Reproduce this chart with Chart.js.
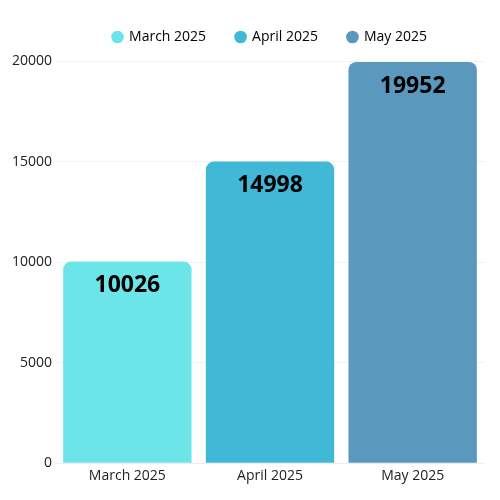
<!DOCTYPE html>
<html>
<head>
<meta charset="utf-8">
<script src="https://cdn.jsdelivr.net/npm/chart.js@4"></script>
<style>
  html, body { margin: 0; padding: 0; background: #fff; }
  #wrap { width: 500px; height: 500px; }
</style>
</head>
<body>
<div id="wrap"><canvas id="chart"></canvas></div>
<script>
const months = ['March 2025', 'April 2025', 'May 2025'];
const totals = [10026, 14998, 19952];
const barColors = ['#6be5e8', '#42b8d7', '#5a98bd'];
const yTicks = [0, 5000, 10000, 15000, 20000];

// draws the bold value inside the top of each bar
const valueLabels = {
    id: 'valueLabels',
    afterDatasetsDraw(chart) {
        const ctx = chart.ctx;
        const meta = chart.getDatasetMeta(0);
        ctx.save();
        ctx.font = 'bold 23px "Open Sans"';
        ctx.fillStyle = '#000';
        ctx.textAlign = 'center';
        ctx.textBaseline = 'middle';
        meta.data.forEach((bar, i) => {
            ctx.fillText(totals[i], bar.x, bar.y + 24);
        });
        ctx.restore();
    }
};

// extra room under the legend
const legendGap = {
    id: 'legendGap',
    beforeInit(chart) {
        const fit = chart.legend.fit;
        chart.legend.fit = function () {
            fit.call(this);
            this.height += 7;
        };
    }
};

new Chart(document.getElementById('chart'), {
    type: 'bar',
    data: {
        labels: months,
        datasets: [{
            data: totals,
            backgroundColor: barColors,
            borderRadius: { topLeft: 8, topRight: 8 },
            borderSkipped: 'bottom',
            categoryPercentage: 0.9,
            barPercentage: 1
        }]
    },
    options: {
        responsive: true,
        maintainAspectRatio: false,
        animation: false,
        layout: { padding: { left: 8, right: 16, top: 0, bottom: 12 } },
        plugins: {
            tooltip: { enabled: false },
            legend: {
                fullSize: false,
                labels: {
                    usePointStyle: true,
                    pointStyle: 'circle',
                    boxWidth: 9,
                    boxHeight: 9,
                    padding: 30,
                    color: '#222',
                    font: { family: '"Open Sans"', size: 14 },
                    generateLabels: () => months.map((m, i) => ({
                        text: m,
                        fillStyle: barColors[i],
                        strokeStyle: barColors[i],
                        lineWidth: 0,
                        pointStyle: 'circle',
                        hidden: false,
                        index: i
                    }))
                },
                onClick: () => {}
            }
        },
        scales: {
            x: {
                grid: { display: false, drawTicks: false },
                border: { color: '#eeeeee' },
                ticks: { color: '#222', padding: 4, font: { family: '"Open Sans"', size: 14 } }
            },
            y: {
                min: 0,
                max: 20000,
                afterBuildTicks: axis => { axis.ticks = yTicks.map(v => ({ value: v })); },
                grid: { color: '#f2f2f2', drawTicks: false },
                border: { display: false },
                ticks: {
                    color: '#222',
                    padding: 4,
                    font: { family: '"Open Sans"', size: 14 },
                    callback: v => String(v)
                }
            }
        }
    },
    plugins: [valueLabels, legendGap]
});
</script>
</body>
</html>
